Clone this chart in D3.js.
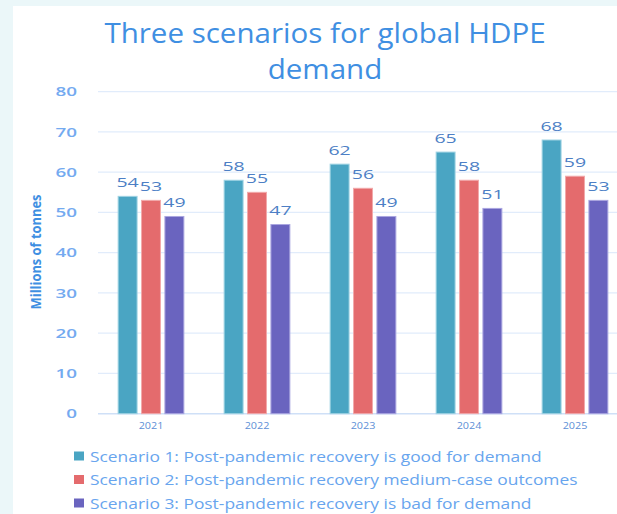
<!DOCTYPE html>
<html>
<head>
<meta charset="utf-8">
<script src="https://cdn.jsdelivr.net/npm/d3@7"></script>
<style>
  html, body { margin: 0; padding: 0; background: #ebf7f9; }
  svg { display: block; }
  text { font-family: "Open Sans", "Noto Sans", sans-serif; }
</style>
</head>
<body>
<svg id="chart" width="617" height="514"></svg>
<script>
// Global HDPE demand, millions of tonnes, under three recovery scenarios
const years = ["2021", "2022", "2023", "2024", "2025"];
const scenarioNames = [
  "Scenario 1: Post-pandemic recovery is good for demand",
  "Scenario 2: Post-pandemic recovery medium-case outcomes",
  "Scenario 3: Post-pandemic recovery is bad for demand"
];
const scenario1 = [54, 58, 62, 65, 68];
const scenario2 = [53, 55, 56, 58, 59];
const scenario3 = [49, 47, 49, 51, 53];
const yTicks = [0, 10, 20, 30, 40, 50, 60, 70, 80];
const titleLines = ["Three scenarios for global HDPE", "demand"];
const yTitle = "Millions of tonnes";

const seriesValues = [scenario1, scenario2, scenario3];
const colors = ["#4aa5c3", "#e46b6d", "#6a64bf"];
const strokes = ["#9fd3e3", "#f2a9aa", "#aaa6e0"];

const svg = d3.select("#chart");

// white card
svg.append("rect")
  .attr("x", 13).attr("y", 6)
  .attr("width", 617 - 13).attr("height", 514 - 6)
  .attr("fill", "#ffffff");

// helper: text with horizontal stretch
function stretchedText(parent, x, y, str, sx, anchor) {
  return parent.append("text")
    .attr("transform", `translate(${x},${y}) scale(${sx},1)`)
    .attr("text-anchor", anchor || "middle")
    .text(str);
}

// title
const titleG = svg.append("g")
  .attr("fill", "#3f8fe2")
  .style("font-size", "28px")
  .style("font-weight", 500);
titleLines.forEach((line, i) => {
  stretchedText(titleG, 325, 43 + i * 36, line, 1.055, "middle");
});

// scales
const x0 = d3.scaleBand()
  .domain(years)
  .range([98, 628])
  .paddingInner(0.38)
  .paddingOuter(0.19);

const x1 = d3.scaleBand()
  .domain(d3.range(scenarioNames.length))
  .range([0, x0.bandwidth()])
  .paddingInner(0.19)
  .paddingOuter(0);

const y = d3.scaleLinear()
  .domain([0, 80])
  .range([413.7, 91.7]);

// gridlines
svg.append("g")
  .selectAll("line")
  .data(yTicks)
  .join("line")
  .attr("x1", 98).attr("x2", 617)
  .attr("y1", d => y(d)).attr("y2", d => y(d))
  .attr("stroke", d => d === 0 ? "#cfe0f7" : "#e1ecfb")
  .attr("stroke-width", d => d === 0 ? 1.6 : 1.3);

// y tick labels
const yLab = svg.append("g")
  .attr("fill", "#74aaf0")
  .style("font-size", "13px")
  .style("font-weight", 600);
yTicks.forEach(t => {
  stretchedText(yLab, 77, y(t) + 4.6, String(t), 1.45, "end");
});

// y axis title
svg.append("text")
  .attr("transform", "translate(41,252) rotate(-90) scale(0.86,1)")
  .attr("text-anchor", "middle")
  .attr("fill", "#3f8fe2")
  .style("font-size", "15px")
  .style("font-weight", 700)
  .text(yTitle);

// bars
const groups = svg.append("g")
  .selectAll("g")
  .data(years)
  .join("g")
  .attr("transform", d => `translate(${x0(d)},0)`);

groups.selectAll("rect")
  .data((d, i) => seriesValues.map((vals, s) => ({ s, v: vals[i] })))
  .join("rect")
  .attr("x", d => x1(d.s))
  .attr("y", d => y(d.v))
  .attr("width", x1.bandwidth())
  .attr("height", d => y(0) - y(d.v))
  .attr("fill", d => colors[d.s])
  .attr("stroke", d => strokes[d.s])
  .attr("stroke-width", 1);

// value labels
const valG = svg.append("g")
  .attr("fill", "#4d7fc5")
  .style("font-size", "13px")
  .style("font-weight", 500);
years.forEach((yr, i) => {
  seriesValues.forEach((vals, s) => {
    const cx = x0(yr) + x1(s) + x1.bandwidth() / 2;
    stretchedText(valG, cx, y(vals[i]) - 9.5, String(vals[i]), 1.5, "middle");
  });
});

// x tick labels
const xLab = svg.append("g")
  .attr("fill", "#5d8fd6")
  .style("font-size", "9px");
years.forEach(yr => {
  stretchedText(xLab, x0(yr) + x0.bandwidth() / 2, 429, yr, 1.2, "middle");
});

// legend
const legend = svg.append("g")
  .style("font-size", "14.5px")
  .attr("fill", "#68a5ee");
scenarioNames.forEach((name, i) => {
  const cy = 456.5 + i * 23.5;
  legend.append("rect")
    .attr("x", 74).attr("y", cy - 5)
    .attr("width", 10).attr("height", 9)
    .attr("fill", colors[i]);
  stretchedText(legend, 90, cy + 5, name, 1.2, "start");
});
</script>
</body>
</html>
